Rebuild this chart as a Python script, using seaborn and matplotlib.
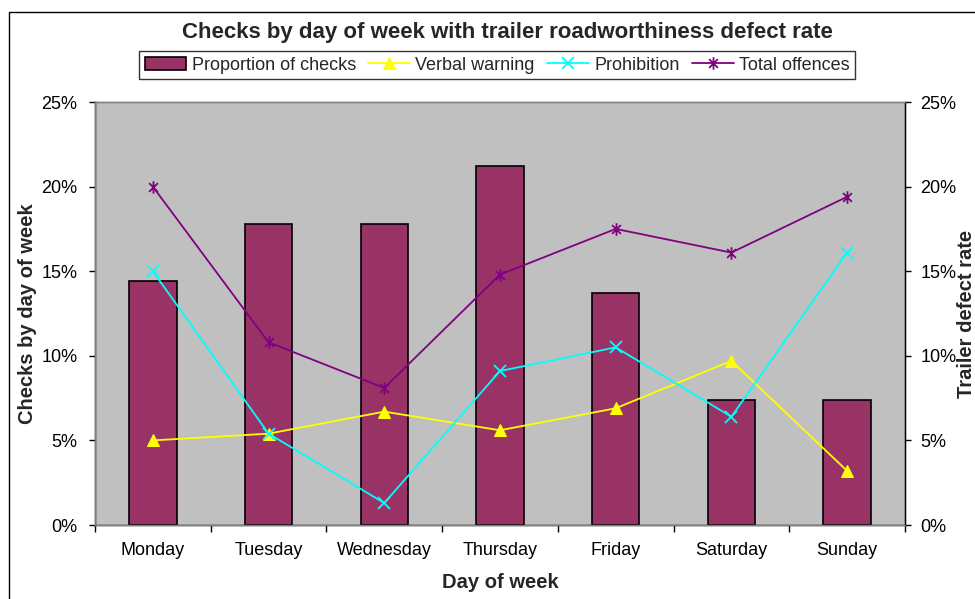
import matplotlib
matplotlib.use('Agg')
import matplotlib.pyplot as plt
import seaborn as sns
from matplotlib.ticker import FuncFormatter, FixedLocator
from matplotlib.patches import Rectangle
from matplotlib.path import Path

days = ['Monday', 'Tuesday', 'Wednesday', 'Thursday', 'Friday', 'Saturday', 'Sunday']
checks = [14.4, 17.8, 17.8, 21.2, 13.7, 7.4, 7.4]
verbal = [5.0, 5.4, 6.7, 5.6, 6.9, 9.7, 3.2]
prohibition = [15.0, 5.4, 1.3, 9.1, 10.5, 6.4, 16.1]
total = [20.0, 10.8, 8.1, 14.8, 17.5, 16.1, 19.4]
yticks = [0, 5, 10, 15, 20, 25]

# excel style asterisk: an x with a vertical stroke through it
star = Path([(0, -1), (0, 1), (-0.7, -0.7), (0.7, 0.7), (-0.7, 0.7), (0.7, -0.7)],
            [Path.MOVETO, Path.LINETO] * 3)

sns.set_theme(style='white')
plt.rcParams['font.family'] = ['Liberation Sans', 'DejaVu Sans']

fig = plt.figure(figsize=(9.75, 5.99), dpi=100)
ax = fig.add_axes([0.0974, 0.1235, 0.8308, 0.7062])
ax.set_facecolor('#C0C0C0')

sns.barplot(x=days, y=checks, color='#993366', edgecolor='black', linewidth=1.2,
            width=0.41, saturation=1, ax=ax, label='Proportion of checks')
ax.set_ylim(0, 25)
ax.set_yticks(yticks)
pct = FuncFormatter(lambda v, p: f'{v:.0f}%')
ax.yaxis.set_major_formatter(pct)

ax2 = ax.twinx()
sns.lineplot(x=days, y=verbal, color='yellow', marker='^', markersize=8, markeredgecolor='yellow',
             linewidth=1.3, sort=False, ax=ax2, label='Verbal warning')
sns.lineplot(x=days, y=prohibition, color='cyan', marker='x', markersize=8, markeredgewidth=1.3,
             markeredgecolor='cyan', linewidth=1.3, sort=False, ax=ax2, label='Prohibition')
sns.lineplot(x=days, y=total, color='purple', marker=star, markersize=9, markeredgewidth=1.3,
             markeredgecolor='purple', linewidth=1.3, sort=False, ax=ax2, label='Total offences')
ax2.set_ylim(0, 25)
ax2.set_yticks(yticks)
ax2.yaxis.set_major_formatter(pct)
ax.set_xlim(-0.5, 6.5)

for a in (ax, ax2):
    for s in a.spines.values():
        s.set_color('#808080')
        s.set_linewidth(1)
    a.tick_params(axis='y', labelsize=13, colors='black', length=4.5, width=1, direction='out')
ax.tick_params(axis='y', left=True, right=False, pad=8)
ax2.tick_params(axis='y', right=True, left=False, pad=6.5)
# tick marks between categories, labels centred under the bars
ax.xaxis.set_minor_locator(FixedLocator([i - 0.5 for i in range(len(days) + 1)]))
ax.tick_params(axis='x', which='major', length=0, pad=12, labelsize=13, colors='black')
ax.tick_params(axis='x', which='minor', bottom=True, length=5, width=1, direction='out', color='black')
ax.spines['left'].set_color('black')
ax.spines['bottom'].set_color('black')
ax2.spines['right'].set_color('black')

ax.set_xlabel('Day of week', fontsize=14.5, fontweight='bold')
ax.xaxis.set_label_coords(0.5, -0.137)
ax.xaxis.label.set_va('center')
ax.set_ylabel('Checks by day of week', fontsize=14.5, fontweight='bold')
ax.yaxis.set_label_coords(-0.083, 0.5)
ax.yaxis.label.set_va('center')
ax2.set_ylabel('Trailer defect rate', fontsize=14.5, fontweight='bold', rotation=90)
ax2.yaxis.set_label_coords(1.0765, 0.5)
ax2.yaxis.label.set_va('center')

h1, l1 = ax.get_legend_handles_labels()
h2, l2 = ax2.get_legend_handles_labels()
ax2.get_legend().remove()
if ax.get_legend():
    ax.get_legend().remove()
leg = fig.legend(h1 + h2, l1 + l2, loc='center', bbox_to_anchor=(0.51, 0.891), ncol=4,
                 frameon=True, fancybox=False, fontsize=13, handlelength=2.3,
                 columnspacing=0.7, handletextpad=0.3, borderpad=0.3)
leg.get_frame().set_edgecolor('black')
leg.get_frame().set_linewidth(1)

fig.text(0.52, 0.946, 'Checks by day of week with trailer roadworthiness defect rate',
         ha='center', va='center', fontsize=16, fontweight='bold')

fig.patches.append(Rectangle((0.009, -0.05), 1.2, 1.03, transform=fig.transFigure,
                             fill=False, edgecolor='black', linewidth=1))

fig.savefig('out.png', dpi=100)
